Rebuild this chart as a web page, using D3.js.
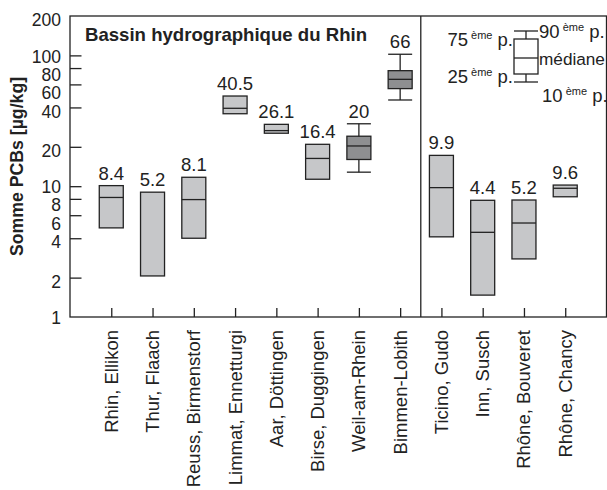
<!DOCTYPE html>
<html>
<head>
<meta charset="utf-8">
<script src="https://cdn.jsdelivr.net/npm/d3@7"></script>
<style>
  body { margin: 0; background: #fff; }
  svg { display: block; font-family: "Liberation Sans", Arial, Helvetica, sans-serif; }
  text { fill: #222; }
</style>
</head>
<body>
<svg id="chart" width="607" height="490"></svg>
<script>
//
// Somme PCBs par station, boîtes à moustaches sur échelle log
//

const stations = [
  "Rhin, Ellikon", "Thur, Flaach", "Reuss, Birmenstorf", "Limmat, Ennetturgi",
  "Aar, Döttingen", "Birse, Duggingen", "Weil-am-Rhein", "Bimmen-Lobith",
  "Ticino, Gudo", "Inn, Susch", "Rhône, Bouveret", "Rhône, Chancy"
];
const meanLabels = ["8.4", "5.2", "8.1", "40.5", "26.1", "16.4", "20", "66", "9.9", "4.4", "5.2", "9.6"];
const p10 = [null, null, null, null, null, null, 12.8, 45.6, null, null, null, null];
const q25 = [4.8, 2.06, 4.0, 35.8, 25.4, 11.3, 16.0, 55.7, 4.1, 1.47, 2.78, 8.3];
const medians = [8.2, null, 7.9, 39.4, 26.6, 16.3, 20.3, 65.6, 9.75, 4.44, 5.23, 9.64];
const q75 = [10.1, 9.0, 11.7, 48.9, 29.7, 20.9, 24.1, 76.4, 17.2, 7.8, 7.84, 10.2];
const p90 = [null, null, null, null, null, null, 30.0, 102, null, null, null, null];

const yTicks = [2, 4, 6, 8, 10, 20, 40, 60, 80, 100];
const yTickLabels = [1, 2, 4, 6, 8, 10, 20, 40, 60, 80, 100, 200];
const rhineCount = 8; // les 8 premières stations sont dans le bassin du Rhin

const MARGIN = { left: 70, top: 16, right: 606.5, bottom: 317 };
const FONT = 18.5;
const INK = "#222";
// les étiquettes serrées (6, 8, 60, 80...) sont décalées vers le bas
const LABEL_NUDGE = { 1: 1, 2: 4, 4: 4, 6: 8.5, 8: 6.5 };

const svg = d3.select("#chart");

const xScale = d3
  .scalePoint()
  .domain(stations)
  .range([MARGIN.left, MARGIN.right])
  .padding(1);
const yScale = d3
  .scaleLog()
  .domain([1, 200])
  .range([MARGIN.bottom, MARGIN.top]);

function drawAxes() {
  // cadre
  svg
    .append("rect")
    .attr("x", MARGIN.left)
    .attr("y", MARGIN.top)
    .attr("width", MARGIN.right - MARGIN.left)
    .attr("height", MARGIN.bottom - MARGIN.top)
    .attr("fill", "none")
    .attr("stroke", INK)
    .attr("stroke-width", 1.3);

  // ticks vers l'intérieur
  const yAxis = d3.axisRight(yScale).tickValues(yTicks).tickSize(11.5).tickFormat("");
  svg
    .append("g")
    .attr("transform", "translate(" + MARGIN.left + ",0)")
    .call(yAxis)
    .call(g => g.select(".domain").remove())
    .selectAll("line")
    .attr("stroke", INK)
    .attr("stroke-width", 1.3);

  svg
    .append("g")
    .selectAll("text")
    .data(yTickLabels)
    .join("text")
    .attr("x", 61)
    .attr("y", d => yScale(d) + LABEL_NUDGE[String(d)[0]])
    .attr("dy", "0.35em")
    .attr("text-anchor", "end")
    .attr("font-size", 17.5)
    .text(d => d);

  const xAxis = d3.axisTop(xScale).tickSize(9).tickFormat("");
  svg
    .append("g")
    .attr("transform", "translate(0," + MARGIN.bottom + ")")
    .call(xAxis)
    .call(g => g.select(".domain").remove())
    .selectAll("line")
    .attr("stroke", INK)
    .attr("stroke-width", 1.3);

  svg
    .append("g")
    .selectAll("text")
    .data(stations)
    .join("text")
    .attr("transform", d => "translate(" + xScale(d) + ",330) rotate(-90)")
    .attr("dy", "0.35em")
    .attr("text-anchor", "end")
    .attr("font-size", FONT)
    .text(d => d);

  // séparation Rhin / autres bassins
  const xSplit = (xScale(stations[rhineCount - 1]) + xScale(stations[rhineCount])) / 2;
  svg
    .append("line")
    .attr("x1", xSplit)
    .attr("x2", xSplit)
    .attr("y1", MARGIN.top)
    .attr("y2", MARGIN.bottom)
    .attr("stroke", INK)
    .attr("stroke-width", 1.3);

  svg
    .append("text")
    .attr("x", 85)
    .attr("y", 40.5)
    .attr("font-size", 18.6)
    .attr("font-weight", "bold")
    .text("Bassin hydrographique du Rhin");

  svg
    .append("text")
    .attr("transform", "translate(23," + (MARGIN.top + MARGIN.bottom) / 2 + ") rotate(-90)")
    .attr("text-anchor", "middle")
    .attr("font-size", 17.7)
    .attr("font-weight", "bold")
    .text("Somme PCBs [µg/kg]");
}

function drawBoxes() {
  const boxWidth = 24;
  const rows = stations.map((name, i) => ({
    name,
    label: meanLabels[i],
    p10: p10[i],
    q25: q25[i],
    median: medians[i],
    q75: q75[i],
    p90: p90[i]
  }));

  const g = svg
    .append("g")
    .selectAll("g")
    .data(rows)
    .join("g")
    .attr("transform", d => "translate(" + xScale(d.name) + ",0)");

  const whiskered = g.filter(d => d.p90 !== null);
  whiskered
    .append("line")
    .attr("y1", d => yScale(d.p90))
    .attr("y2", d => yScale(d.p10))
    .attr("stroke", INK)
    .attr("stroke-width", 1.3);
  ["p10", "p90"].forEach(key => {
    whiskered
      .append("line")
      .attr("x1", -boxWidth / 2)
      .attr("x2", boxWidth / 2)
      .attr("y1", d => yScale(d[key]))
      .attr("y2", d => yScale(d[key]))
      .attr("stroke", INK)
      .attr("stroke-width", 1.3);
  });

  g.append("rect")
    .attr("x", -boxWidth / 2)
    .attr("width", boxWidth)
    .attr("y", d => yScale(d.q75))
    .attr("height", d => yScale(d.q25) - yScale(d.q75))
    .attr("fill", d => (d.p90 !== null ? "#8e8f91" : "#c6c7c9"))
    .attr("stroke", INK)
    .attr("stroke-width", 1.3);

  g.filter(d => d.median !== null)
    .append("line")
    .attr("x1", -boxWidth / 2)
    .attr("x2", boxWidth / 2)
    .attr("y1", d => yScale(d.median))
    .attr("y2", d => yScale(d.median))
    .attr("stroke", INK)
    .attr("stroke-width", 1.3);

  g.append("text")
    .attr("y", d => yScale(d.p90 !== null ? d.p90 : d.q75) - 6)
    .attr("text-anchor", "middle")
    .attr("font-size", FONT)
    .text(d => d.label);
}

function drawLegend() {
  const lg = svg.append("g").attr("transform", "translate(526,0)");
  const w = 24;
  const line = (x1, y1, x2, y2) =>
    lg.append("line")
      .attr("x1", x1).attr("y1", y1).attr("x2", x2).attr("y2", y2)
      .attr("stroke", INK).attr("stroke-width", 1.3);

  line(0, 31, 0, 82);
  line(-w / 2, 31, w / 2, 31);
  line(-w / 2, 82, w / 2, 82);
  lg.append("rect")
    .attr("x", -w / 2).attr("y", 39).attr("width", w).attr("height", 35)
    .attr("fill", "#fff").attr("stroke", INK).attr("stroke-width", 1.3);
  line(-w / 2, 58, w / 2, 58);

  const entries = [
    { n: "75", x: -13, y: 46, anchor: "end" },
    { n: "25", x: -13, y: 83, anchor: "end" },
    { n: "90", x: 13, y: 38, anchor: "start" },
    { n: "10", x: 16, y: 102, anchor: "start" }
  ];
  entries.forEach(e => {
    const t = lg.append("text")
      .attr("x", e.x).attr("y", e.y)
      .attr("text-anchor", e.anchor)
      .attr("font-size", FONT);
    t.append("tspan").text(e.n);
    t.append("tspan").attr("dy", -7).attr("font-size", 11).text("\u00A0ème");
    t.append("tspan").attr("dy", 7).text(" p.");
  });
  lg.append("text")
    .attr("x", 13).attr("y", 65)
    .attr("font-size", 17.2)
    .text("médiane");
}

drawAxes();
drawBoxes();
drawLegend();
</script>
</body>
</html>
